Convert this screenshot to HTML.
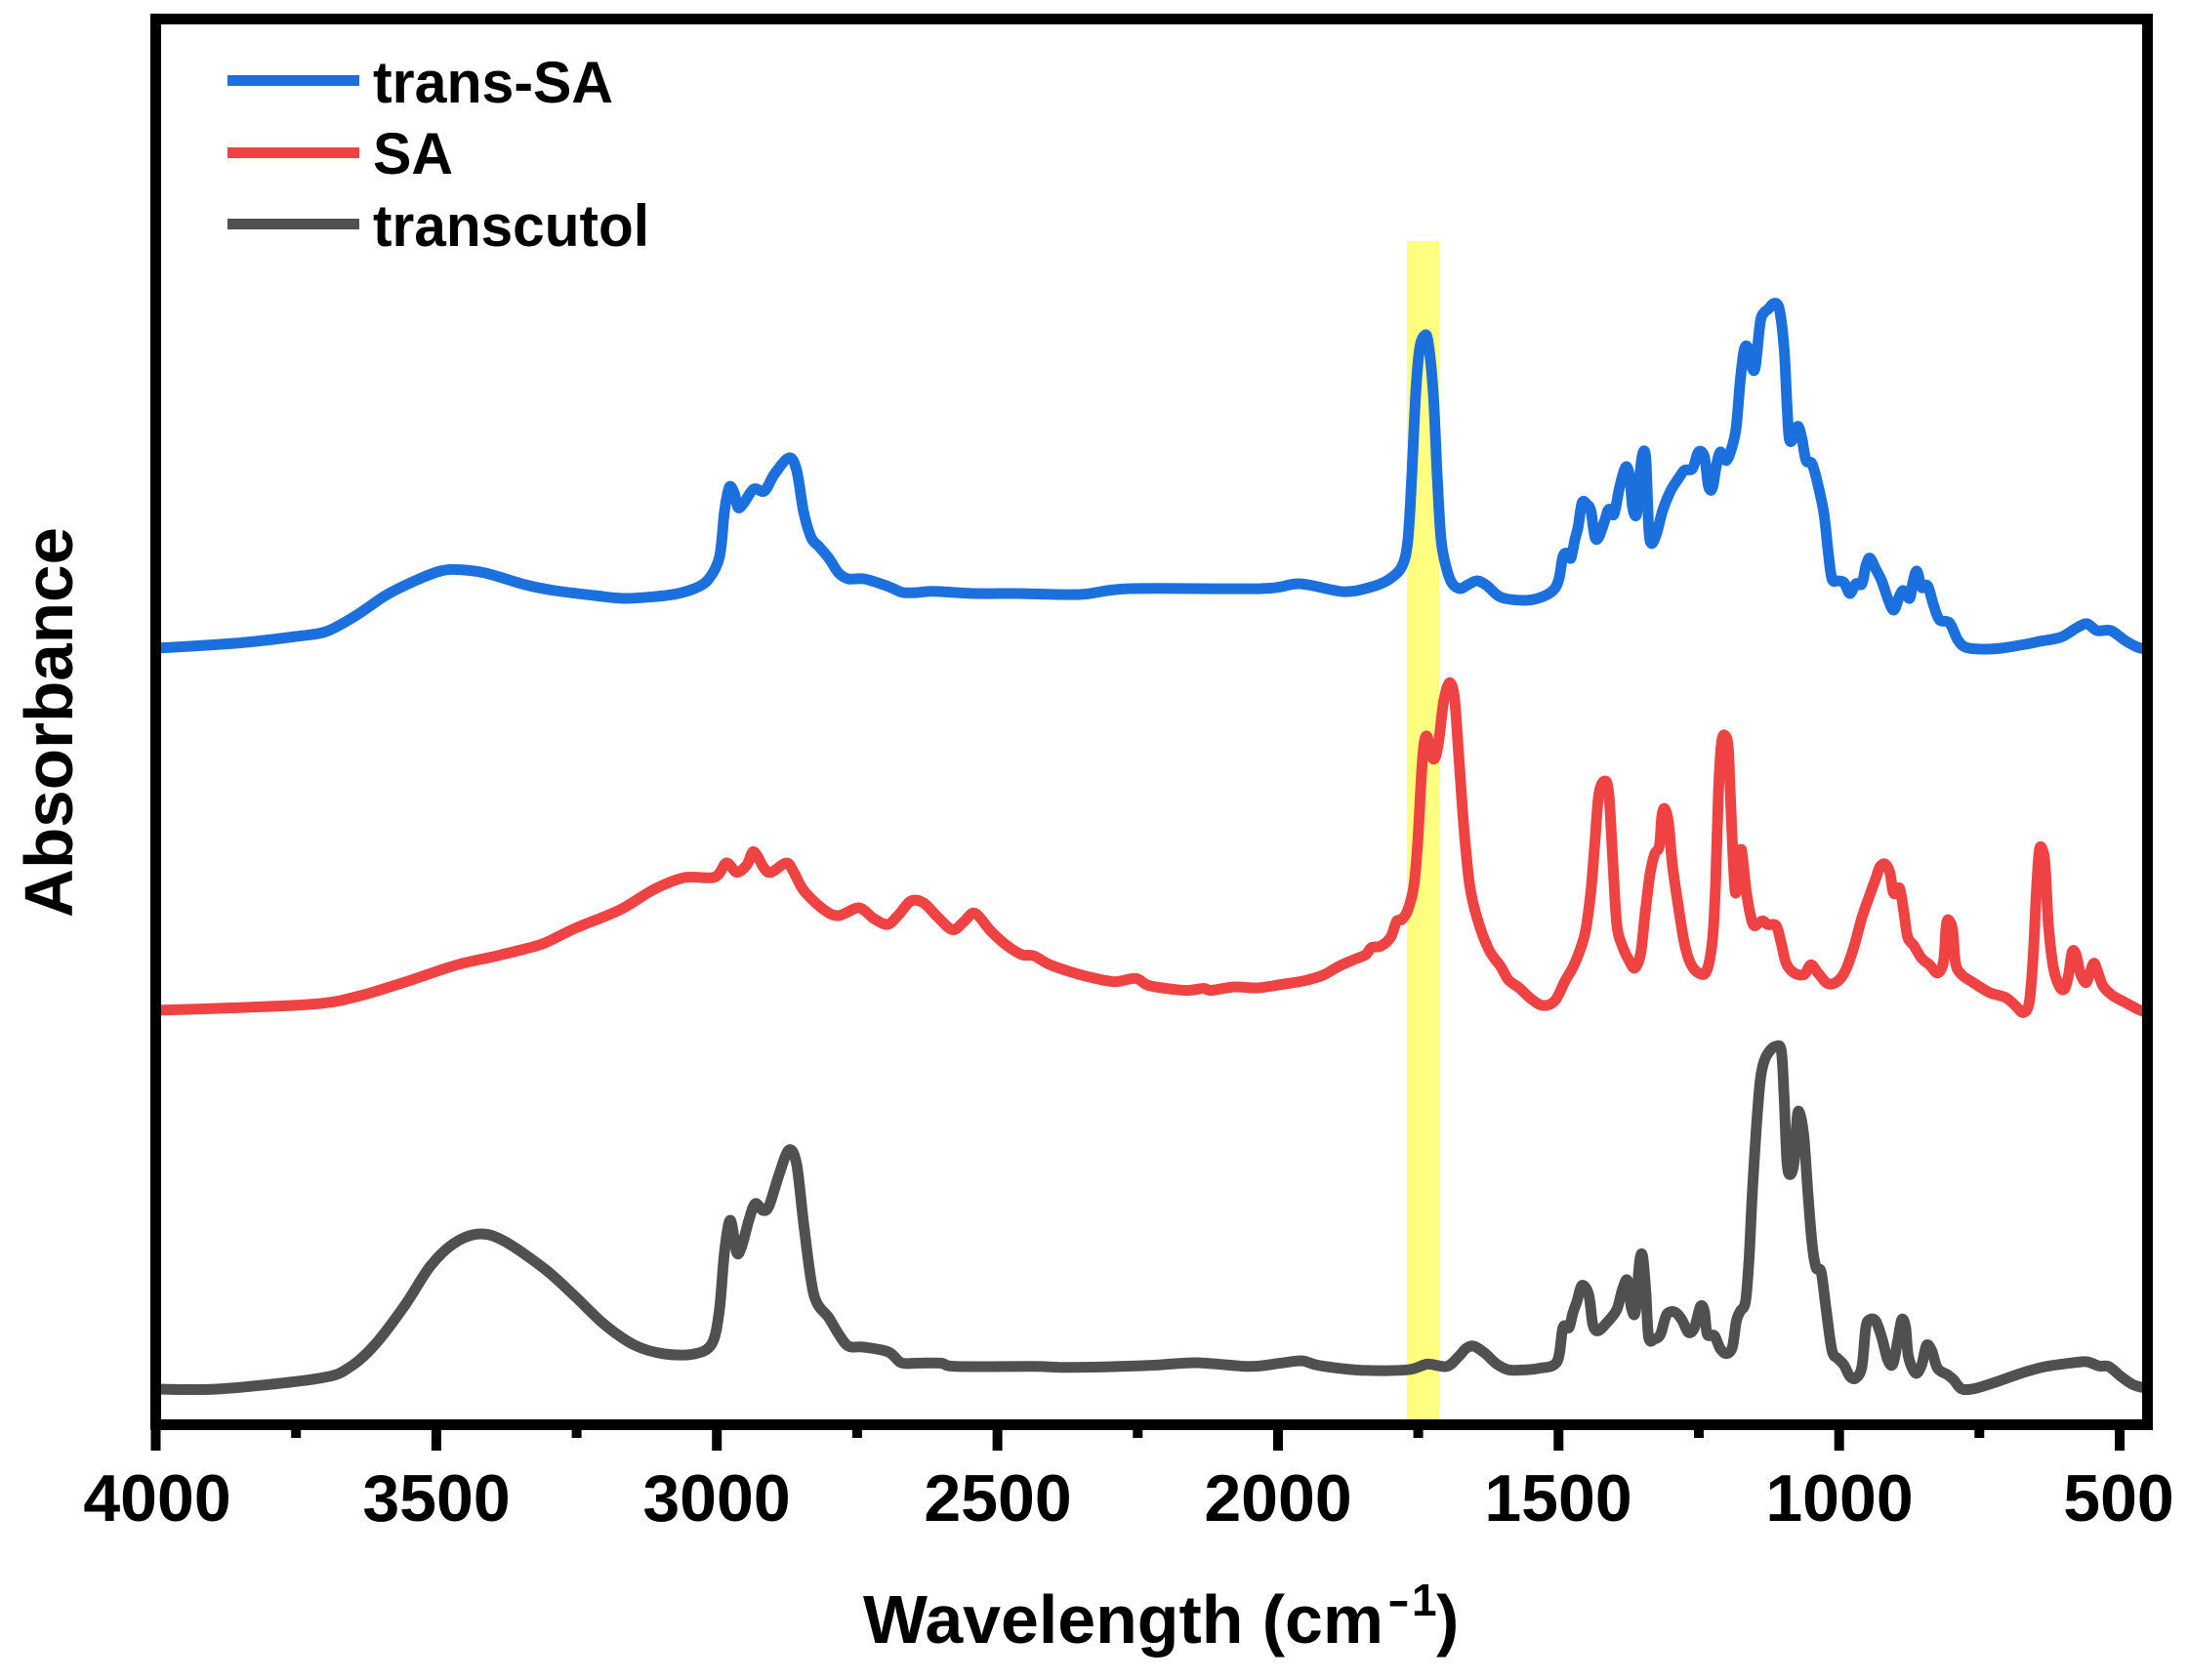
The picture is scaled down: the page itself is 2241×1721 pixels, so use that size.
<!DOCTYPE html>
<html>
<head>
<meta charset="utf-8">
<style>
html,body{margin:0;padding:0;background:#fff;}
svg{display:block;}
text{font-family:"Liberation Sans",Arial,sans-serif;font-weight:bold;fill:#000;}
</style>
</head>
<body>
<svg id="chart" width="2241" height="1721" viewBox="0 0 2241 1721" xmlns="http://www.w3.org/2000/svg">
<rect x="0" y="0" width="2241" height="1721" fill="#fff"/>
<!-- highlight band -->
<rect x="1441" y="247" width="33" height="1210" fill="#ffff80"/>

<g id="curves" fill="none" stroke-width="11" stroke-linejoin="round" stroke-linecap="butt">
<!-- transcutol (gray) -->
<polyline stroke="#505050" points="160,1423 226.5,1422.7 328.6,1411.7 359,1400 384.7,1376.7 415,1336.7 441,1296.7 466,1273 492,1264 517,1271.7 558,1300 589,1328 619,1356.7 650,1378 680.6,1387 711,1387 729,1376.7 736.7,1343 742,1283 748,1250 754.5,1283 759.7,1276.7 767,1250 773.5,1233 781.6,1240 787.8,1235 798,1203 808,1178 816,1193 823.5,1256.7 833.7,1326.7 849,1350 859,1366.7 869,1379 884.7,1380 910,1385 923,1396 940,1396.4 963.7,1396.4 979.5,1399.8 1058.6,1399.8 1098,1400.8 1177,1398.8 1224.7,1396 1280,1399.8 1311.7,1396.4 1333.4,1394 1351,1398.8 1394.7,1403.7 1442,1403.2 1462,1397.4 1481.7,1399.8 1493.6,1390 1501.5,1381.4 1509.4,1379 1521,1386.3 1533,1397.4 1545,1403.2 1560,1403.4 1576.3,1401.7 1594.7,1395 1600.8,1360 1607,1360 1611,1345 1615.1,1333.3 1620.4,1316.7 1627.3,1326.7 1631.4,1356.7 1636.7,1363.3 1645.7,1355 1655.9,1341.7 1662,1320 1667,1311.7 1671,1340 1675.1,1343.3 1679.2,1293.3 1682.4,1286.7 1685.7,1323.3 1688.6,1370 1694.7,1371.7 1700.8,1366.7 1707,1346.7 1715.1,1344 1722.4,1351.7 1729.4,1365 1735.5,1360 1741.6,1338.3 1745.7,1343.3 1748.6,1366.7 1755.9,1368.3 1762,1381.7 1768.2,1386.7 1774.3,1380 1778.4,1353.3 1782.4,1343.3 1787.8,1333.3 1791.4,1290 1794.7,1223.3 1798.8,1156.7 1802.9,1106.7 1807,1086.7 1813,1076 1819.2,1071.7 1824.5,1076.7 1827.3,1123.3 1830.2,1190 1833.5,1203.3 1837.6,1190 1840.8,1143.3 1843.7,1141.7 1847.8,1166.7 1851.8,1223.3 1855.9,1273.3 1860,1298.3 1865.3,1303.3 1870.2,1340 1876.3,1383.3 1882.4,1391.7 1888.6,1398.3 1894.7,1410 1900.8,1411.7 1907,1400 1911,1360 1915.1,1351.7 1921.2,1353.3 1927.3,1370 1933.5,1393.3 1938.8,1397.3 1943.7,1373.3 1947.8,1351.7 1951.8,1360 1954.7,1390 1962,1406.7 1968.2,1398.3 1973.1,1378.3 1978.4,1383.3 1984.5,1401.7 1994.7,1408.3 2000.8,1413.3 2009,1422.7 2021.2,1422.7 2041.6,1416.7 2070.2,1406.7 2094.7,1400 2123.3,1396 2137.6,1395 2149.8,1399.3 2160,1400 2172.2,1410 2184.5,1418.3 2197,1422"/>
<!-- SA (red) -->
<polyline stroke="#ef4343" points="160,1035 252,1032 328.6,1028 369,1020 415,1006 466,989 507,979.6 538,972 558,966 589,951 635,932 670,911 701,899 732,898.5 744,884 754.5,893.5 765,886 772,872.5 783,890 790,893.5 805.6,884 813,893.5 823.5,912.6 844,932 859,938 879.6,930 895,941 909,947 920,937.5 933,923 946,925 960,939 975.6,952.4 987.4,944 998.5,935.5 1015,954 1031,968.4 1046.8,978 1058.6,979 1074.4,987.8 1098,996 1118,1001.4 1141.7,1005.7 1163.4,1002.3 1177,1009.6 1212.8,1014.5 1232.6,1012.5 1240.5,1014.5 1264,1011 1288,1012 1315.6,1008 1335.4,1004.8 1355,999 1371,990 1386.8,983 1398.7,978 1404.6,970.8 1414.5,969 1424.4,960 1430.3,944 1436,941.8 1442,932 1448,908 1452,864 1456,791.5 1458.8,760 1462,755 1466,774.5 1470,776 1473.8,757.6 1478.6,718.8 1484.5,699.4 1489.6,714 1493.6,767 1499.5,849.7 1505.4,907.8 1513.3,941.8 1525,973 1537,990 1545,1003.8 1556,1012 1568.2,1023.3 1580.4,1030 1592.7,1025 1602.9,1005 1613,986.7 1623.3,956.7 1629.4,913.3 1633.5,863.3 1637.6,813.3 1643.7,800 1647.8,813.3 1651.8,880 1655.9,946.7 1662,970 1668.2,983.3 1674.3,991.7 1680.4,976.7 1684.5,940 1689.8,896.7 1694.7,875 1699.6,866.7 1702,836.7 1704.9,828.3 1709,843.3 1713,886.7 1719.2,930 1725.3,966.7 1731.4,986.7 1739.6,996.7 1747.8,995 1753.9,963.3 1757.1,906.7 1760,813.3 1763.3,760 1767.3,754 1770.2,766.7 1772.2,813.3 1775.1,880 1777.6,915 1780.4,886.7 1783.3,870 1785.7,886.7 1788.6,913.3 1792.7,936.7 1796.7,948.3 1804.9,943.3 1811,947.3 1819.2,948.3 1824.5,966.7 1829.4,986.7 1837.6,996.7 1847.8,998.3 1854.7,988.3 1862,996.7 1872.2,1007.7 1882.4,1005 1890.6,993.3 1898.8,970 1907,940 1915.1,916.7 1921.2,900 1925.3,888.3 1930.6,885 1935.5,893.3 1938.8,913.3 1941.6,915 1945.7,910 1949.8,933.3 1953.9,960 1960,968.3 1968.2,981.7 1976.3,988.3 1984.5,996.7 1990.6,985 1993.5,946.7 1996.7,943.3 2000,953.3 2002.9,986.7 2009,998.3 2021.2,1006.7 2037.6,1016.7 2053.9,1021.7 2064,1030 2072.2,1037.3 2078.4,1026.7 2082.4,980 2085.7,913.3 2088.6,871.7 2091.8,870 2094.7,886.7 2098,946.7 2102.9,990 2109,1010 2114.3,1013.3 2118.4,1000 2122.4,975 2126.5,978.3 2130.6,996.7 2136.3,1006.7 2140.4,996.7 2144.5,986.7 2147.8,993.3 2153.9,1010 2164,1020 2176.3,1026.7 2188.6,1033.3 2197,1036.7"/>
<!-- trans-SA (blue) -->
<polyline stroke="#1b70de" points="160,664 211,661 252,658 303,652 334,647 364,631 395,610 425,595 451,585 469,583.5 497,587 538,599 568,605 609,610 640,613 686,609.5 711,603 726,593 737,570 742,524 747,499 752,505 756,520 762,515 772,501 783,503 793,486 808,469 816,482 823,524 831,551 839,560 849,572 859,587 869,593 885,593 905,599 915,603 925,607 940,607 956,605.7 999,608 1043,608 1106,609 1157,603 1292,603 1331,598 1375,606 1402,602 1422,594 1436,580 1442,553 1446,487 1450,403 1454,357 1458.8,344 1462.7,350 1468,403 1472,487 1476,553 1481.7,583 1487.6,598 1495.6,603 1503.5,599 1513,595 1523,600 1537,611.7 1560,615 1576,612.7 1590.6,605 1596.7,593 1600.8,570 1605.7,566.7 1609,571.7 1613,553 1616.3,540 1620.4,515 1625.3,516.7 1629.4,523 1633.5,550 1637.6,550 1643.7,533 1647.8,521.7 1653,527 1658,503 1662,486.7 1666,478 1669.4,490 1672.2,520 1676.3,526.7 1679.2,490 1682.4,465 1685.7,470 1688.6,540 1691.4,556.7 1696.7,546.7 1702.9,523 1711,503 1719.2,490 1725.3,481.7 1733.5,480 1739.6,463 1745.7,468 1749.8,498 1753.9,500 1758,476.7 1762,463 1768.2,471.7 1774.3,456.7 1778.4,436.7 1782.4,390 1786.5,358 1790.6,356.7 1794.7,376.7 1798,375 1802.9,330 1807,320 1811,316.7 1817.1,310.7 1822.4,316.7 1827.3,356.7 1830.2,413 1832.7,450 1837.6,448 1841.6,436.7 1845.7,450 1849.8,471.7 1855.9,475 1862,496.7 1868.2,526.7 1872.2,563 1876.3,593 1882.4,595 1888.6,596.7 1894.7,608 1900.8,598 1907,598 1911,580 1915.1,571.7 1921.2,583 1927.3,595 1933.5,613 1939.6,625 1945.7,610 1949.8,605 1955.9,613 1959.2,596.7 1963.3,585 1968.2,601.7 1974.3,600 1980.4,620 1986.5,635 1996.7,638 2004.9,655 2013,663 2029.4,665 2049.8,664 2074.3,660 2090.6,656.7 2111,652.7 2127.3,643 2137.6,639 2147.8,646 2162,646 2176.3,656 2188.6,662.7 2197,665"/>
</g>

<!-- frame -->
<rect x="159.5" y="19.5" width="2040" height="1440" fill="none" stroke="#000" stroke-width="11"/>

<!-- ticks -->
<g stroke="#000" stroke-width="10">
<line x1="159.5" y1="1459" x2="159.5" y2="1486"/>
<line x1="446.9" y1="1459" x2="446.9" y2="1486"/>
<line x1="734.2" y1="1459" x2="734.2" y2="1486"/>
<line x1="1021.6" y1="1459" x2="1021.6" y2="1486"/>
<line x1="1309" y1="1459" x2="1309" y2="1486"/>
<line x1="1596.3" y1="1459" x2="1596.3" y2="1486"/>
<line x1="1883.7" y1="1459" x2="1883.7" y2="1486"/>
<line x1="2171" y1="1459" x2="2171" y2="1486"/>
<line x1="303.2" y1="1459" x2="303.2" y2="1473"/>
<line x1="590.6" y1="1459" x2="590.6" y2="1473"/>
<line x1="877.9" y1="1459" x2="877.9" y2="1473"/>
<line x1="1165.3" y1="1459" x2="1165.3" y2="1473"/>
<line x1="1452.6" y1="1459" x2="1452.6" y2="1473"/>
<line x1="1740" y1="1459" x2="1740" y2="1473"/>
<line x1="2027.3" y1="1459" x2="2027.3" y2="1473"/>
</g>

<!-- tick labels -->
<g font-size="68" text-anchor="middle">
<text x="161" y="1558">4000</text>
<text x="447" y="1558">3500</text>
<text x="734" y="1558">3000</text>
<text x="1022" y="1558">2500</text>
<text x="1309" y="1558">2000</text>
<text x="1596" y="1558">1500</text>
<text x="1884" y="1558">1000</text>
<text x="2170" y="1558">500</text>
</g>

<!-- axis titles -->
<text x="884" y="1683" font-size="70" textLength="533" lengthAdjust="spacingAndGlyphs">Wavelength (cm</text>
<text x="1421" y="1655" font-size="46" textLength="23" lengthAdjust="spacingAndGlyphs">-</text>
<text x="1446" y="1655" font-size="46">1</text>
<text x="1471" y="1683" font-size="70">)</text>
<text transform="translate(74,740) rotate(-90)" font-size="70" text-anchor="middle" textLength="400" lengthAdjust="spacingAndGlyphs">Absorbance</text>

<!-- legend -->
<g stroke-width="11">
<line x1="233" y1="82.5" x2="368" y2="82.5" stroke="#1b70de"/>
<line x1="233" y1="156.5" x2="368" y2="156.5" stroke="#ef4343"/>
<line x1="233" y1="229.5" x2="368" y2="229.5" stroke="#505050"/>
</g>
<g font-size="60">
<text x="382" y="105" textLength="246" lengthAdjust="spacingAndGlyphs">trans-SA</text>
<text x="382" y="178" textLength="82" lengthAdjust="spacingAndGlyphs">SA</text>
<text x="382" y="252" textLength="283" lengthAdjust="spacingAndGlyphs">transcutol</text>
</g>
</svg>
<script>
(function(){
  try{
    var NS="http://www.w3.org/2000/svg";
    var g=document.getElementById("curves");
    var pls=g.getElementsByTagName("polyline");
    var arr=[];for(var i=0;i<pls.length;i++)arr.push(pls[i]);
    arr.forEach(function(pl){
      var nums=pl.getAttribute("points").trim().split(/[\s,]+/).map(Number);
      var p=[];for(var k=0;k+1<nums.length;k+=2)p.push([nums[k],nums[k+1]]);
      if(p.length<3)return;
      var d="M"+p[0][0]+","+p[0][1];
      var t=0.16;
      for(var j=0;j<p.length-1;j++){
        var p0=p[j>0?j-1:0],p1=p[j],p2=p[j+1],p3=p[j+2<p.length?j+2:p.length-1];
        var c1x=p1[0]+(p2[0]-p0[0])*t,c1y=p1[1]+(p2[1]-p0[1])*t;
        var c2x=p2[0]-(p3[0]-p1[0])*t,c2y=p2[1]-(p3[1]-p1[1])*t;
        if(c1x>p2[0])c1x=p2[0];if(c1x<p1[0])c1x=p1[0];
        if(c2x<p1[0])c2x=p1[0];if(c2x>p2[0])c2x=p2[0];
        d+=" C"+c1x.toFixed(2)+","+c1y.toFixed(2)+" "+c2x.toFixed(2)+","+c2y.toFixed(2)+" "+p2[0]+","+p2[1];
      }
      var path=document.createElementNS(NS,"path");
      path.setAttribute("d",d);
      path.setAttribute("stroke",pl.getAttribute("stroke"));
      g.insertBefore(path,pl);
      g.removeChild(pl);
    });
  }catch(e){}
})();
</script>
</body>
</html>
